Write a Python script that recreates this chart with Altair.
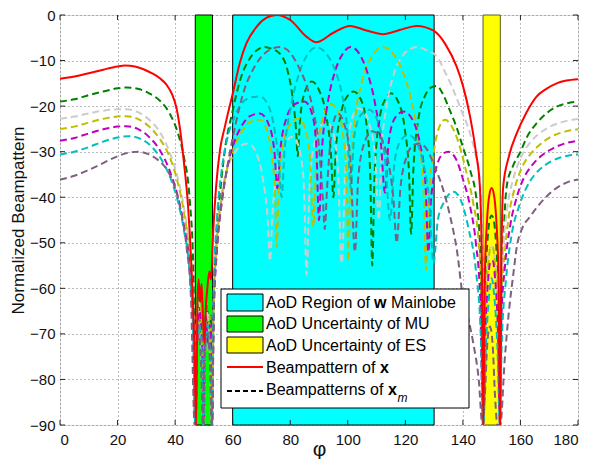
import altair as alt
import pandas as pd

FONT = "Liberation Sans"

X_TICKS = [0, 20, 40, 60, 80, 100, 120, 140, 160, 180]
Y_TICKS = [0, -10, -20, -30, -40, -50, -60, -70, -80, -90]

REGION_NAMES = ["AoD Region of w Mainlobe", "AoD Uncertainty of MU", "AoD Uncertainty of ES"]
REGION_START = [60, 47, 147]
REGION_END = [130, 53, 153]
REGION_FILL = ["#00ffff", "#00ff00", "#ffff00"]
REGION_EDGE = ["#000000", "#000000", "#5a5a20"]

RED = [(0, -14), (5, -13.5), (10, -12.8), (15, -12), (20, -11.3), (22.6, -11.1), (26, -11.3), (29, -11.9),
       (32, -12.8), (34.7, -13.9), (37, -15.3), (39, -17.5), (40.5, -20.5), (41.7, -25), (43, -32), (44.5, -42),
       (45.8, -57), (46.8, -75), (47.3, -90), (47.8, -62), (48.2, -58), (48.7, -63), (49.2, -59), (49.7, -67),
       (50.2, -72), (50.7, -64), (51.2, -60), (51.9, -56.3), (52.5, -58), (53.2, -48), (54.2, -38), (55.6, -29.6),
       (57.3, -24.5), (60.3, -16.5), (62.5, -10.5), (64.8, -6.2), (68.3, -2.6), (71.8, -0.6), (75.3, 0),
       (80, -1.1), (85.7, -4.8), (89, -6), (95, -3.9), (100.8, -2.4), (106.5, -3.4), (112.3, -4.2), (118, -3.3),
       (124, -2.4), (129.7, -3.4), (134, -6.5), (137.8, -11.3), (140, -15.5), (142.5, -22.3), (144.5, -30),
       (145.9, -37.7), (146.6, -55), (147.1, -90), (147.6, -58), (148.4, -45), (149.2, -39.5), (150, -38),
       (150.8, -39.5), (151.6, -45), (152.4, -58), (152.9, -90), (153.3, -58), (154, -37.7), (156, -31),
       (158.7, -26), (162, -21.5), (165.6, -17.9), (169, -16.2), (172.6, -15), (176, -14.4), (180, -14.1)]

GREEN = [(0, -19), (5, -18.5), (10, -17.6), (15, -16.8), (20, -16.1), (23, -15.9), (27, -16.2), (31, -17.2),
         (35, -19), (38, -21.5), (41, -26), (43, -31), (45, -40), (46.3, -55), (47.2, -90),
         (47.7, -66), (48.3, -62), (49, -70), (49.7, -90), (50.4, -68), (51.1, -64), (51.8, -71), (52.4, -66), (52.9, -90),
         (53.4, -62), (54.2, -50), (55.5, -40), (57, -31), (60, -21), (63, -13.5), (66, -9.5), (68.5, -7.7), (71, -7),
         (73.5, -7.4), (76.4, -8.5), (79, -12), (80.8, -18), (82, -25), (82.6, -31), (83.3, -24), (85, -17),
         (87.5, -14.6), (90, -16.5), (92.5, -22), (94.2, -31), (95, -40), (95.8, -30), (97.5, -22), (100, -17.7),
         (102, -16.8), (104.5, -18.5), (106.5, -24), (107.8, -35), (108.5, -55), (109.3, -35), (111, -23),
         (113, -18.5), (115, -17.2), (117.5, -19), (119.8, -25), (121.3, -35), (122, -48), (122.8, -34), (124.5, -23),
         (127, -17.5), (129, -15.9), (131, -15.6), (133, -17.3), (135.5, -21), (138, -25), (140, -29), (142.5, -34),
         (144.8, -41), (146.2, -55), (147.1, -90),
         (147.6, -62), (148.5, -50), (149.3, -45), (150, -44), (150.7, -45), (151.5, -50), (152.3, -62), (152.9, -90),
         (153.4, -60), (154.3, -46), (155.2, -37.7), (157.5, -33), (159.8, -30.3), (162.5, -26.5), (165.6, -23.8),
         (169, -21.6), (172.6, -20.1), (176, -19.4), (180, -19)]

GRAY = [(0, -22.8), (5, -22.3), (10, -21.6), (15, -21), (20, -20.7), (23, -20.7), (27, -21.3), (31, -23), (35, -26),
        (38, -30), (41, -36), (43, -42), (45, -52), (46.3, -65), (47, -90),
        (47.6, -70), (48.3, -63), (49.1, -74), (49.8, -90), (50.5, -72), (51.3, -65), (52.1, -73), (52.8, -90),
        (53.4, -62), (54.5, -48), (56, -40), (58, -34), (60.5, -30.5), (63, -28.6), (65.4, -28.2), (68, -30),
        (70.5, -36), (72.2, -45), (73, -54), (73.8, -44), (75.5, -34), (78, -28.5), (80.8, -26.7), (83, -29),
        (84.7, -37), (85.7, -57), (86.7, -38), (88.5, -28), (91, -24), (92.5, -23.5), (94.5, -25), (96.5, -33),
        (97.9, -54.5), (99.2, -33), (101, -24), (103.5, -20.5), (105.5, -21), (107.5, -24), (109.5, -31),
        (110.8, -45), (111.7, -30), (113.5, -20), (116, -13), (119, -9), (121.5, -7.5), (124, -7), (127.5, -7.8),
        (130.9, -9.1), (133.8, -12.5), (136.7, -16.5), (139.5, -21), (142.5, -26), (144.5, -31), (146, -37),
        (146.8, -52), (147.3, -90),
        (147.9, -62), (148.8, -54), (149.6, -51), (150.4, -51), (151.2, -54), (152.1, -62), (152.8, -90),
        (153.3, -62), (154, -52), (155.5, -42), (157.5, -36), (160, -31.5), (163, -28.3), (166, -26.3), (170, -24.6),
        (175, -23.4), (180, -22.8)]

YELLOW = [(0, -25), (5, -24.5), (10, -23.6), (15, -22.8), (20, -22.3), (23, -22.2), (27, -22.8), (31, -24.5),
          (35, -27.5), (38, -31), (41, -37), (43, -43), (45, -53), (46.3, -66), (47, -90),
          (47.5, -66), (48.2, -72), (49, -64), (49.7, -90), (50.4, -70), (51.2, -74), (52, -66), (52.8, -90),
          (53.4, -64), (54.5, -50), (56, -41), (58, -34), (60.5, -29), (63, -25.8), (66, -23.5), (69.5, -23),
          (72, -25.5), (73.8, -32), (74.8, -40), (75.3, -51), (75.9, -40), (77, -31), (79.5, -24.5), (82.8, -22.7),
          (85.5, -25.5), (87, -33), (88, -46.5), (89, -33), (91, -23.5), (94, -19.5), (96.5, -21), (98.5, -27),
          (99.6, -36), (100.2, -54), (100.9, -36), (102.5, -23), (105, -14.5), (108.5, -9), (112.3, -7),
          (115.5, -8.3), (119, -12.3), (122, -18.5), (124.5, -27), (126.3, -38), (127.2, -56), (128.2, -40),
          (130, -29.5), (132, -24.3), (133.8, -23), (136, -24.3), (138.5, -28), (141, -34), (143.5, -41),
          (145.5, -50), (146.6, -65), (147.2, -90),
          (147.8, -65), (148.8, -55), (149.6, -51), (150.4, -51), (151.2, -55), (152.2, -65), (152.8, -90),
          (153.3, -64), (154.2, -55), (156, -44), (158, -38), (160.5, -33.5), (163.5, -30.5), (167, -28.3),
          (171, -26.6), (175.5, -25.6), (180, -25.1)]

MAGENTA = [(0, -27.6), (5, -27), (10, -26), (15, -25.1), (20, -24.5), (23, -24.4), (27, -25), (31, -26.8), (35, -30),
           (38, -34), (41, -40), (43, -46), (45, -55), (46.3, -68), (47, -90),
           (47.6, -72), (48.4, -65), (49.2, -70), (49.9, -90), (50.6, -66), (51.4, -72), (52.1, -68), (52.8, -90),
           (53.4, -66), (54.5, -52), (56, -42), (58, -34), (60.5, -28), (63, -24.5), (66, -22.2), (69.5, -21.6),
           (72.5, -24), (74.5, -30), (75.5, -38), (76.5, -30), (78.5, -23), (81.5, -19.6), (85, -19), (87.5, -21.5),
           (89, -28), (90, -45), (91, -30), (93, -19.5), (95.5, -12.5), (98, -8.8), (101, -7), (104, -8.5),
           (107, -13), (109.5, -19.5), (111.5, -28), (112.9, -39), (114.2, -28), (116.5, -22.5), (119.4, -21.2),
           (122.5, -23), (125, -28), (127, -37), (128, -52), (129, -40), (131, -33), (133, -30.5), (134.9, -30),
           (137.5, -31.5), (140, -36), (142.5, -42), (144.5, -50), (146, -62), (147, -90),
           (147.8, -70), (148.8, -58), (149.6, -54), (150.4, -54), (151.2, -58), (152.2, -70), (152.9, -90),
           (153.4, -66), (154.5, -56), (156.5, -46), (158.5, -40.5), (161, -36), (164, -33), (167.5, -30.8),
           (171.5, -29.2), (176, -28.1), (180, -27.6)]

TEAL = [(0, -30.6), (5, -30), (10, -29), (15, -27.8), (20, -26.9), (24, -26.6), (28, -27.2), (32, -29), (35.5, -32),
        (38.5, -36), (41, -41), (43, -47), (45, -56), (46.3, -70), (47, -90),
        (47.5, -74), (48.3, -68), (49.1, -72), (49.8, -90), (50.5, -74), (51.3, -68), (52, -73), (52.8, -90),
        (53.4, -60), (54.5, -45), (56, -35), (58, -27.5), (60.5, -22.5), (63, -19.5), (66, -18.2), (69.5, -17.9),
        (72.5, -20), (74.5, -25), (76, -32), (77, -40), (78, -30), (80, -20.9), (82.5, -14), (85.5, -9.2),
        (89.2, -7.1), (92.5, -8.5), (95.5, -12), (98, -17.5), (99.8, -25), (101, -38), (102.2, -27), (104.5, -22),
        (107.5, -20.8), (110.5, -23.5), (113, -32), (114.7, -45), (116.3, -32), (118.5, -27.5), (121, -26.3),
        (123.5, -27.5), (126, -32), (128.3, -41), (129.8, -54.5), (131.3, -45), (133.5, -41), (136.7, -38.8),
        (139.5, -41), (142, -47), (144.5, -56), (146.2, -70), (147.1, -90),
        (148, -73), (149.2, -61), (150, -57.8), (150.8, -61), (152, -73), (152.9, -90),
        (153.5, -72), (155, -58), (157, -48), (159.5, -42), (162, -38), (165, -35), (168.5, -33), (172.5, -31.6),
        (176.5, -30.9), (180, -30.6)]

PURPLE = [(0, -36.1), (5, -35.3), (10, -34), (15, -32.5), (20, -31), (24, -30.2), (27.2, -30), (30.5, -30.5),
          (34, -31.8), (37, -33.8), (39.5, -37), (42, -43), (44, -51), (45.5, -62), (46.8, -90),
          (47.4, -75), (48.2, -70), (49, -76), (49.7, -90), (50.4, -72), (51.2, -70), (52, -75), (52.8, -90),
          (53.5, -64), (54.7, -50), (56.5, -40), (58.5, -32), (61, -24), (64, -16.5), (67.5, -11.5), (71, -8.5),
          (76.4, -7), (80, -8.3), (83, -11.5), (85.7, -15.5), (88, -21), (90, -29), (91.3, -40), (92, -47),
          (92.8, -38), (94.3, -26), (96.5, -21.6), (98.8, -24), (100.8, -31), (102.5, -52), (103.6, -36),
          (105.8, -28), (108.5, -25.5), (111.5, -27), (114, -32), (115.8, -40), (117, -50), (118.3, -38),
          (120.5, -31), (123, -28.5), (125, -28.2), (127.5, -29.5), (130, -33), (133, -38), (135.5, -44), (138, -52),
          (140, -62), (142, -67), (143.6, -72), (145.5, -80), (146.8, -90),
          (147.6, -84), (148.5, -72), (149.4, -68.4), (150.3, -72), (151.2, -84), (152, -90),
          (153, -90), (154.5, -76), (156, -65), (157.5, -57), (158.7, -51), (160.5, -47), (163.3, -44.3), (166, -42),
          (169, -39.9), (172.5, -38), (176, -36.8), (180, -36.1)]

DASHED_NAMES = ["green", "gray", "yellow", "magenta", "teal", "purple"]
DASHED_COLORS = ["#008000", "#cccccc", "#bfbf00", "#bf00bf", "#00bfbf", "#7f5f7f"]
DASHED_DATA = [GREEN, GRAY, YELLOW, MAGENTA, TEAL, PURPLE]

# ---------------- tables ----------------
rows = []
for name, pts in zip(DASHED_NAMES, DASHED_DATA):
    for i, (x, y) in enumerate(pts):
        rows.append({"curve": name, "x": x, "y": y, "i": i})
dashed_df = pd.DataFrame(rows)
red_df = pd.DataFrame([{"x": x, "y": y, "i": i} for i, (x, y) in enumerate(RED)])
region_df = pd.DataFrame({"name": REGION_NAMES, "x0": REGION_START, "x1": REGION_END,
                          "top": [Y_TICKS[0]] * 3, "bottom": [Y_TICKS[-1]] * 3})
xt_df = pd.DataFrame({"t": X_TICKS})
yt_df = pd.DataFrame({"t": Y_TICKS})
DUMMY = pd.DataFrame({"k": [0]})

W, H = 518, 410
xs = alt.Scale(domain=[0, 180], nice=False, zero=False)
ys = alt.Scale(domain=[-90, 0], nice=False, zero=False)

x_axis = alt.Axis(values=X_TICKS, title="φ", grid=True, ticks=False, domain=False,
                  labelFontSize=15, labelPadding=7, labelColor="#111", labelFont=FONT,
                  titleFontSize=21, titleFontWeight="normal", titleFont=FONT, titleColor="#111",
                  titleY=24, titleBaseline="middle",
                  gridDash=[1, 3], gridColor="#777", gridWidth=1)
y_axis = alt.Axis(values=Y_TICKS, title="Normalized Beampattern", grid=True, ticks=False, domain=False,
                  labelFontSize=15, labelPadding=5, labelColor="#111", labelFont=FONT,
                  titleFontSize=17, titleFontWeight="normal", titleFont=FONT, titleColor="#111",
                  titleX=-42, titleY=H / 2, titleBaseline="middle", titleAngle=-90, titleAlign="center",
                  gridDash=[1, 3], gridColor="#777", gridWidth=1)

rects = alt.Chart(region_df).mark_rect(strokeWidth=1).encode(
    x=alt.X("x0:Q", scale=xs, axis=x_axis),
    x2="x1:Q",
    y=alt.Y("top:Q", scale=ys, axis=y_axis),
    y2="bottom:Q",
    fill=alt.Fill("name:N", scale=alt.Scale(domain=REGION_NAMES, range=REGION_FILL), legend=None),
    stroke=alt.Stroke("name:N", scale=alt.Scale(domain=REGION_NAMES, range=REGION_EDGE), legend=None),
)

dashed = alt.Chart(dashed_df).mark_line(strokeDash=[7, 4], strokeWidth=2, interpolate="monotone", clip=True).encode(
    x=alt.X("x:Q", scale=xs),
    y=alt.Y("y:Q", scale=ys),
    color=alt.Color("curve:N", scale=alt.Scale(domain=DASHED_NAMES, range=DASHED_COLORS), legend=None),
    order="i:Q",
)

red = alt.Chart(red_df).mark_line(color="#ff0000", strokeWidth=2, interpolate="monotone", clip=True).encode(
    x=alt.X("x:Q", scale=xs), y=alt.Y("y:Q", scale=ys), order="i:Q")

tick_col = "#262626"
xt_bot = alt.Chart(xt_df).mark_rule(color=tick_col).encode(x=alt.X("t:Q", scale=xs), y=alt.value(H), y2=alt.value(H - 5))
xt_top = alt.Chart(xt_df).mark_rule(color=tick_col).encode(x=alt.X("t:Q", scale=xs), y=alt.value(0), y2=alt.value(5))
yt_left = alt.Chart(yt_df).mark_rule(color=tick_col).encode(y=alt.Y("t:Q", scale=ys), x=alt.value(0), x2=alt.value(5))
yt_right = alt.Chart(yt_df).mark_rule(color=tick_col).encode(y=alt.Y("t:Q", scale=ys), x=alt.value(W), x2=alt.value(W - 5))

# ---------------- legend (drawn inside plot) ----------------
def box(x0, x1, y0, y1, fill, stroke="#000000"):
    return alt.Chart(DUMMY).mark_rect(fill=fill, stroke=stroke, strokeWidth=1).encode(
        x=alt.value(x0), x2=alt.value(x1), y=alt.value(y0), y2=alt.value(y1))

def txt(s, x, y, size=16, weight="normal", style="normal"):
    return alt.Chart(DUMMY).mark_text(text=s, align="left", baseline="middle", fontSize=size, font=FONT,
                                      fontWeight=weight, fontStyle=style, color="#000000").encode(
        x=alt.value(x), y=alt.value(y))

def seg(x0, x1, y, color, dash=None):
    kw = {"color": color, "strokeWidth": 2}
    if dash:
        kw["strokeDash"] = dash
    return alt.Chart(DUMMY).mark_rule(**kw).encode(x=alt.value(x0), x2=alt.value(x1), y=alt.value(y))

legend = [
    box(161, 409, 274, 393, "#ffffff"),
    box(167, 203, 279, 296, REGION_FILL[0]),
    box(167, 203, 301, 317, REGION_FILL[1]),
    box(167, 203, 322, 338, REGION_FILL[2]),
    seg(167, 203, 352, "#ff0000"),
    seg(167, 203, 376, "#000000", [5, 3]),
    txt("AoD Region of", 206, 288), txt("w", 314, 288, weight="bold"), txt("Mainlobe", 331, 288),
    txt("AoD Uncertainty of MU", 206, 309),
    txt("AoD Uncertainty of ES", 206, 331),
    txt("Beampattern of", 206, 353), txt("x", 320, 353, weight="bold"),
    txt("Beampatterns of", 206, 375), txt("x", 328, 375, weight="bold"),
    txt("m", 337.5, 383, size=12, style="italic"),
]

chart = alt.layer(rects, dashed, red, xt_bot, xt_top, yt_left, yt_right, *legend).properties(
    width=W, height=H,
    autosize=alt.AutoSizeParams(type="none"),
    padding={"left": 52, "top": 7, "right": 8, "bottom": 34},
).configure_view(stroke="#262626", strokeWidth=1).configure(font=FONT, background="white")

chart.save("out.html", embed_options={"renderer": "svg", "actions": False})
